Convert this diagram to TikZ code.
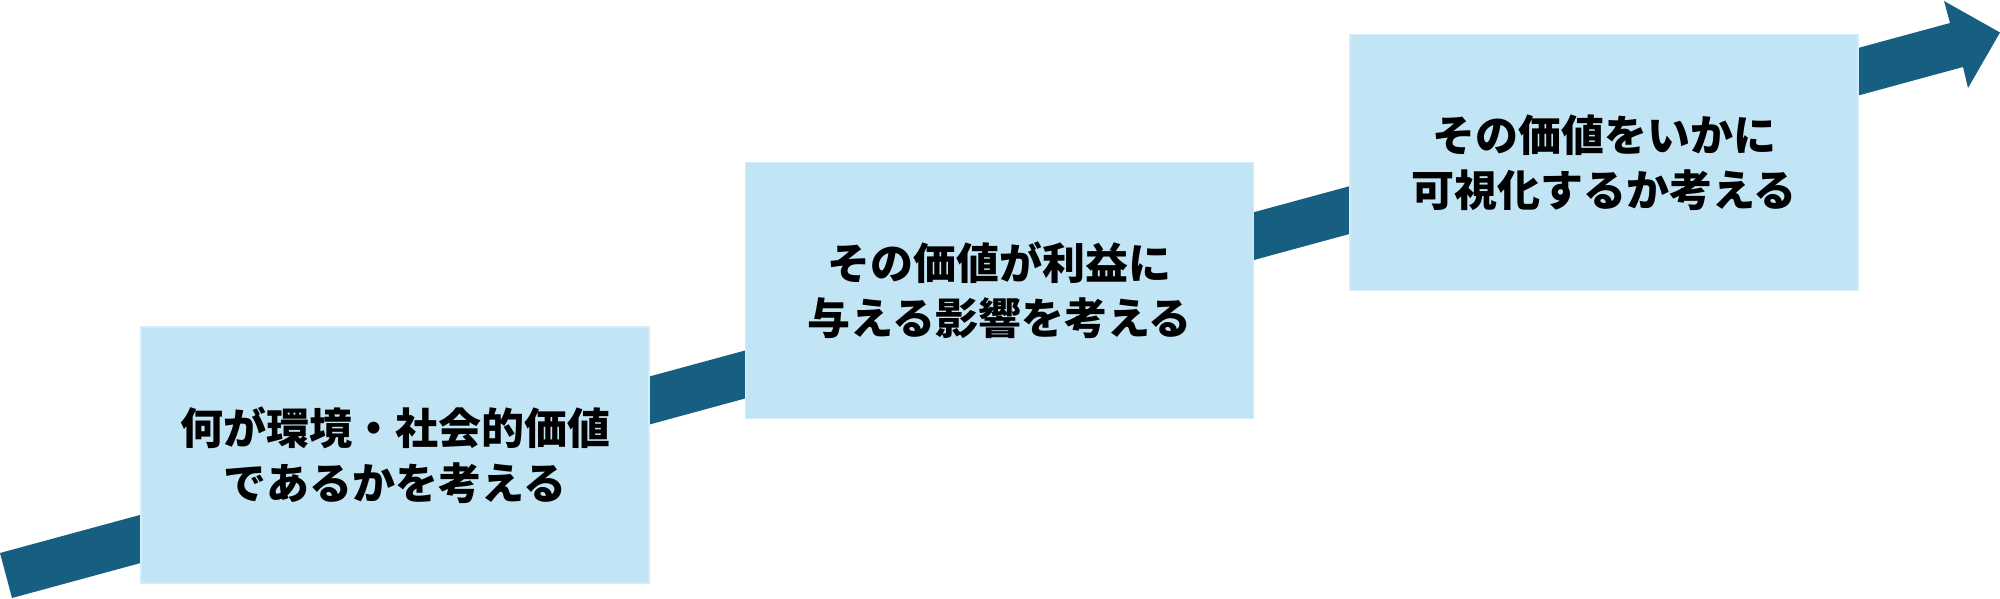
\documentclass[tikz,border=0pt]{standalone}
\usepackage{fontspec}
\newfontfamily\cjk{Noto Sans CJK JP}[BoldFont={Noto Sans CJK JP Black}]
\definecolor{arrowblue}{RGB}{23,95,128}
\definecolor{boxfill}{RGB}{194,229,245}
\definecolor{boxedge}{RGB}{210,236,249}
\begin{document}
\begin{tikzpicture}[x=1pt,y=-1pt,
  stepbox/.style={fill=boxfill,draw=boxedge,line width=1.5pt,
    minimum width=508pt,minimum height=256pt,inner sep=0pt,align=center,
    font=\cjk\bfseries\fontsize{43pt}{55pt}\selectfont}]
\useasboundingbox (0,0) rectangle (2000,598);
% arrow band
\fill[arrowblue] (0,553) -- (1950,23) -- (1944,1) -- (2000,32.5) -- (1968,88) -- (1963,67) -- (12,598) -- cycle;
% boxes
\node[stepbox] (b1) at (395,455) {何が環境・社会的価値\\であるかを考える};
\node[stepbox] (b2) at (999.5,290.5) {その価値が利益に\\与える影響を考える};
\node[stepbox] (b3) at (1604,162.5) {その価値をいかに\\可視化するか考える};
\end{tikzpicture}
\end{document}
